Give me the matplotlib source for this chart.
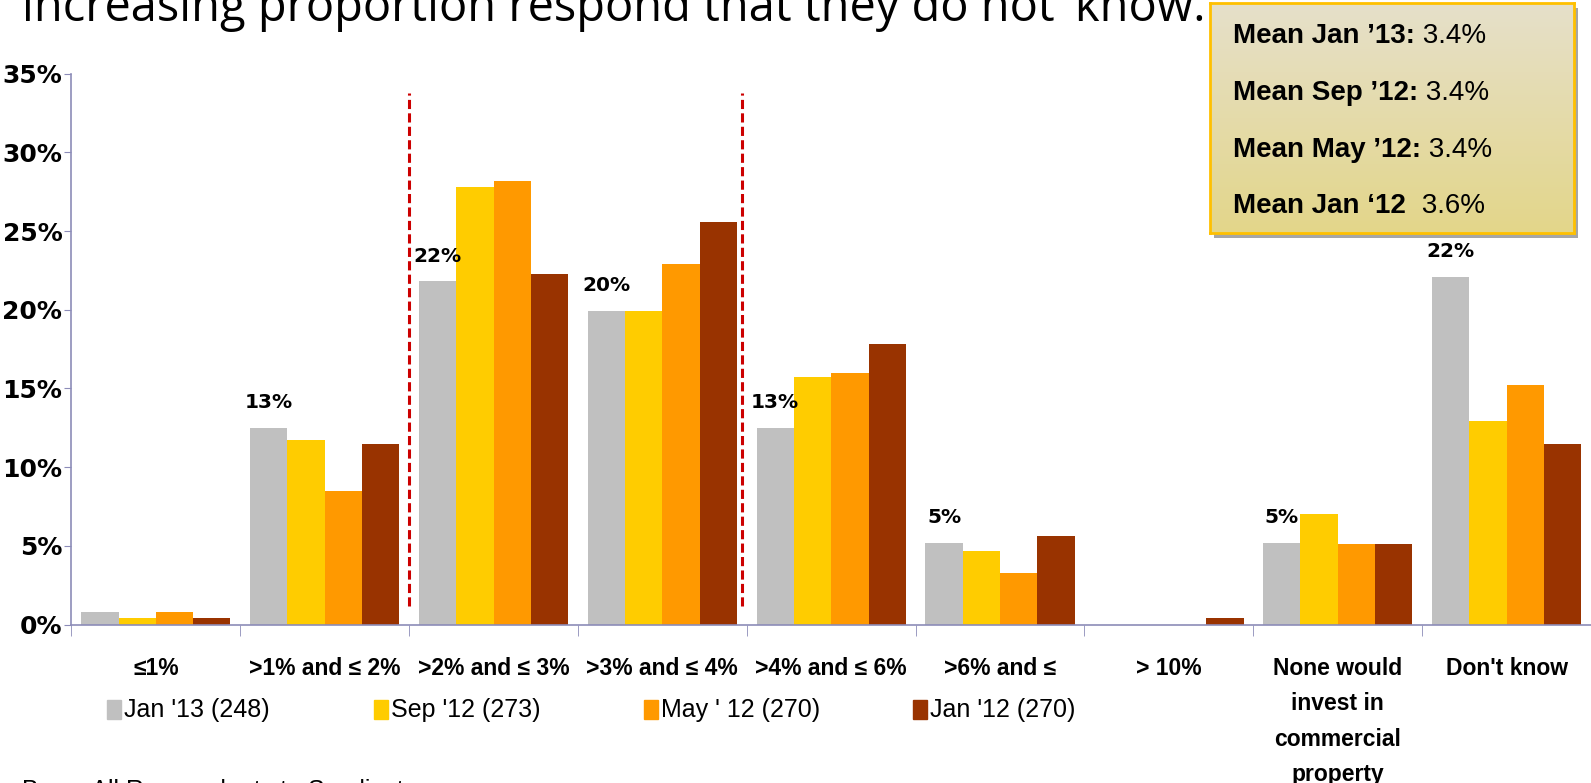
import numpy as np
import matplotlib
matplotlib.use("Agg")
import matplotlib.pyplot as plt
from matplotlib.patches import Rectangle

# categories and series (percent of respondents)
categories = ["≤1%", ">1% and ≤ 2%", ">2% and ≤ 3%", ">3% and ≤ 4%", ">4% and ≤ 6%",
              ">6% and ≤", "> 10%", "None would\ninvest in\ncommercial\nproperty", "Don't know"]
series_names = ["Jan '13 (248)", "Sep '12 (273)", "May ' 12 (270)", "Jan '12 (270)"]
jan13 = [0.8, 12.5, 21.8, 19.9, 12.5, 5.2, 0.0, 5.2, 22.1]
sep12 = [0.4, 11.7, 27.8, 19.9, 15.7, 4.7, 0.0, 7.0, 12.9]
may12 = [0.8, 8.5, 28.2, 22.9, 16.0, 3.3, 0.0, 5.1, 15.2]
jan12 = [0.4, 11.5, 22.3, 25.6, 17.8, 5.6, 0.4, 5.1, 11.5]
colors = ["#C0C0C0", "#FFCC00", "#FF9900", "#993300"]

# labelled groups (Jan '13 only)
label_idx = [1, 2, 3, 4, 5, 7, 8]

mean_labels = ["Mean Jan \u201913:", "Mean Sep \u201912:", "Mean May \u201912:", "Mean Jan \u201812 "]
mean_values = ["3.4%", "3.4%", "3.4%", "3.6%"]

W, H = 1591, 783
fig = plt.figure(figsize=(W / 100, H / 100), dpi=100)
ax = fig.add_axes([71.4 / W, 1 - 624.5 / H, 1 - 71.4 / W, (624.5 - 73.7) / H])

axis_col = "#8C8CB8"
x = np.arange(len(categories))
bw = 0.221
all_series = [jan13, sep12, may12, jan12]
for i, vals in enumerate(all_series):
    ax.bar(x + (i - 1.5) * bw, vals, width=bw, color=colors[i], label=series_names[i], zorder=2)

for k in label_idx:
    v = jan13[k]
    ax.annotate(f"{int(v + 0.5)}%", (x[k] - 1.5 * bw, v), xytext=(0, 14.3), textcoords="offset points",
                ha="center", va="baseline", fontsize=14.5, fontweight="bold", family="DejaVu Sans")

# dashed separators around the 2-4% band
ax.vlines([1.5, 3.47], 1.2, 33.8, colors="#CC0000", linestyles=(0, (3, 1.4)), lw=2.2, zorder=3)

ax.set_xlim(-0.5, 8.5)
ax.set_ylim(0, 35)
ax.set_yticks(np.arange(0, 36, 5))
ax.set_yticklabels([f"{t}%" for t in range(0, 36, 5)], fontsize=18, fontweight="bold", family="DejaVu Sans")
ax.set_xticks(x)
ax.set_xticklabels(categories, fontsize=16.5, fontweight="bold", family="Liberation Sans", va="top")
for lbl in ax.get_xticklabels():
    lbl.set_linespacing(1.68)
ax.set_xticks(np.arange(-0.5, 9, 1), minor=True)
ax.tick_params(axis="x", which="major", length=0, pad=23.5)
ax.tick_params(axis="x", which="minor", length=8, color=axis_col, direction="out")
ax.tick_params(axis="y", length=5, color=axis_col, pad=1.5)
for s in ["top", "right"]:
    ax.spines[s].set_visible(False)
for s in ["left", "bottom"]:
    ax.spines[s].set_color(axis_col)
    ax.spines[s].set_linewidth(1.2)

# legend row
sq_x = [106.5, 374.4, 644.3, 913.2]
for i in range(4):
    fig.patches.append(Rectangle((sq_x[i] / W, 1 - 719 / H), 14 / W, 19 / H, transform=fig.transFigure,
                                 color=colors[i]))
    fig.text((sq_x[i] + 17) / W, 1 - 710 / H, series_names[i], ha="left", va="center", fontsize=18,
             family="Liberation Sans")

# title (runs off the top) and base note (runs off the bottom)
fig.text(22 / W, 1 - 21 / H, "increasing proportion respond that they do not \u2018know.", ha="left",
         va="baseline", fontsize=33.8, family="Open Sans")
fig.text(22 / W, 1 - 779 / H, "Base: All Respondents to Syndicate", ha="left", va="top", fontsize=18,
         family="Liberation Sans")

# mean summary box with gradient fill
bx0, bx1, by0, by1 = 1210, 1574, 3, 233
shadow = fig.add_axes([(bx0 + 4) / W, 1 - (by1 + 5) / H, (bx1 - bx0) / W, (by1 - by0) / H])
shadow.set_facecolor("#A6A6A6")
shadow.set_xticks([])
shadow.set_yticks([])
for s in shadow.spines.values():
    s.set_visible(False)
box = fig.add_axes([bx0 / W, 1 - by1 / H, (bx1 - bx0) / W, (by1 - by0) / H])
top_c = np.array([230, 224, 202]) / 255
bot_c = np.array([227, 214, 138]) / 255
t = np.linspace(0, 1, 100)[:, None]
grad = (top_c[None, :] * (1 - t) + bot_c[None, :] * t)[:, None, :]
box.imshow(grad, aspect="auto", extent=[0, 1, 0, 1])
box.set_xlim(0, 1)
box.set_ylim(0, 1)
box.set_xticks([])
box.set_yticks([])
for s in box.spines.values():
    s.set_color("#FFC000")
    s.set_linewidth(2)

base_y = [43, 100, 157, 213]
for lab, val, by in zip(mean_labels, mean_values, base_y):
    t1 = fig.text(1233 / W, 1 - by / H, lab, ha="left", va="baseline", fontsize=20, fontweight="bold",
                  family="Liberation Sans")
    box.annotate(" " + val, xy=(1, 0), xycoords=t1, ha="left", va="bottom", fontsize=20,
                 family="Liberation Sans", annotation_clip=False)

fig.savefig("out.png", dpi=100)
